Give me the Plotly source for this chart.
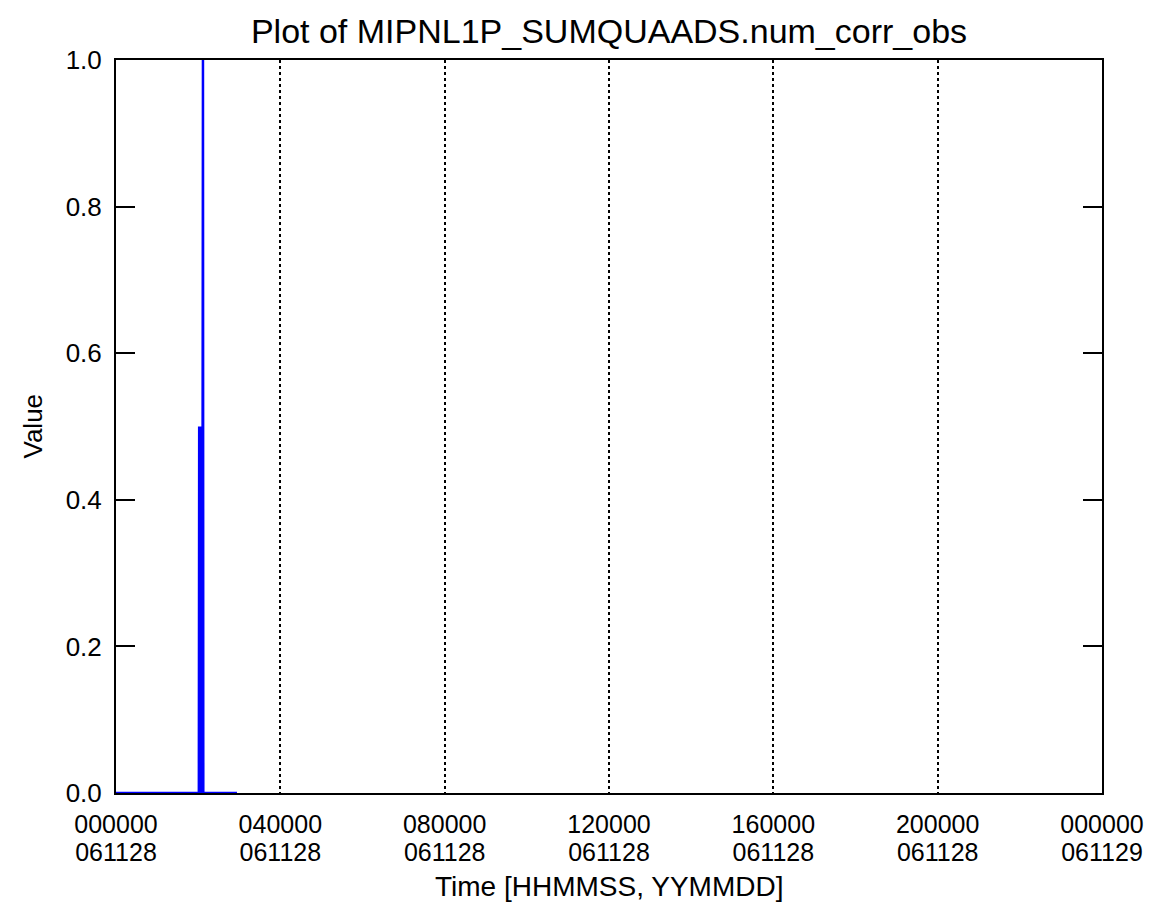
import plotly.graph_objects as go

# Samples of MIPNL1P_SUMQUAADS.num_corr_obs, time in seconds after 2006-11-28 00:00:00
time_s = [0, 7260, 7290, 7320, 7350, 7380, 7410, 7440, 7470, 7500, 7530, 7560, 7590, 7620, 7650, 10600]
values = [0.0, 0.0, 0.5, 0.0, 0.5, 0.0, 0.5, 0.0, 0.5, 0.0, 0.5, 0.0, 0.5, 1.0, 0.0, 0.0]

# Axis ticks
tick_s = [0, 14400, 28800, 43200, 57600, 72000, 86400]
tick_hhmmss = ["000000", "040000", "080000", "120000", "160000", "200000", "000000"]
tick_yymmdd = ["061128", "061128", "061128", "061128", "061128", "061128", "061129"]
y_ticks = [0.0, 0.2, 0.4, 0.6, 0.8, 1.0]

FONT = "Liberation Sans"
LABEL_SIZE = 25

fig = go.Figure()
fig.add_trace(go.Scatter(
    x=time_s, y=values, mode="lines",
    line=dict(color="#0000ff", width=2.5),
    cliponaxis=False, hoverinfo="skip", showlegend=False,
))
# empty trace so the overlaid date axis is drawn
fig.add_trace(go.Scatter(
    x=[tick_s[0], tick_s[-1]], y=[None, None], xaxis="x2", mode="lines",
    hoverinfo="skip", showlegend=False,
))

fig.update_layout(
    width=1160, height=907,
    margin=dict(l=116, r=58, t=60, b=114),
    paper_bgcolor="white", plot_bgcolor="white",
    font=dict(family=FONT, color="black", size=LABEL_SIZE),
    title=dict(
        text="Plot of MIPNL1P_SUMQUAADS.num_corr_obs",
        x=0.525, xanchor="center", y=1 - 31 / 907, yanchor="middle",
        yref="container", font=dict(family=FONT, size=34, color="black"),
    ),
    xaxis=dict(
        range=[tick_s[0], tick_s[-1]],
        tickmode="array", tickvals=tick_s, ticktext=tick_hhmmss,
        ticks="", showline=True, linecolor="black", linewidth=2, mirror=True,
        showgrid=True, gridcolor="black", gridwidth=2, griddash="dot",
        zeroline=False, layer="below traces",
        tickfont=dict(family=FONT, size=LABEL_SIZE, color="black"),
        ticklabelstandoff=8,
    ),
    xaxis2=dict(
        overlaying="x", anchor="y", side="bottom",
        range=[tick_s[0], tick_s[-1]],
        tickmode="array", tickvals=tick_s, ticktext=tick_yymmdd,
        ticks="", showline=False, showgrid=False, zeroline=False,
        tickfont=dict(family=FONT, size=LABEL_SIZE, color="black"),
        ticklabelstandoff=42,
    ),
    yaxis=dict(
        range=[0, 1], tickmode="array", tickvals=y_ticks, tickformat=".1f",
        ticks="inside", ticklen=19, tickwidth=2, tickcolor="black",
        showline=True, linecolor="black", linewidth=2, mirror="ticks",
        showgrid=False, zeroline=False, layer="below traces",
        tickfont=dict(family=FONT, size=26, color="black"),
        ticklabelstandoff=7,
    ),
    annotations=[
        dict(text="Value", xref="paper", yref="paper",
             x=(32 - 116) / 986, y=0.5, xanchor="center", yanchor="middle",
             textangle=-90, showarrow=False,
             font=dict(family=FONT, size=26, color="black")),
        dict(text="Time [HHMMSS, YYMMDD]", xref="paper", yref="paper",
             x=0.5, y=-(887 - 793) / 733, xanchor="center", yanchor="middle",
             showarrow=False, font=dict(family=FONT, size=28, color="black")),
    ],
)

fig.write_html("out.html")
